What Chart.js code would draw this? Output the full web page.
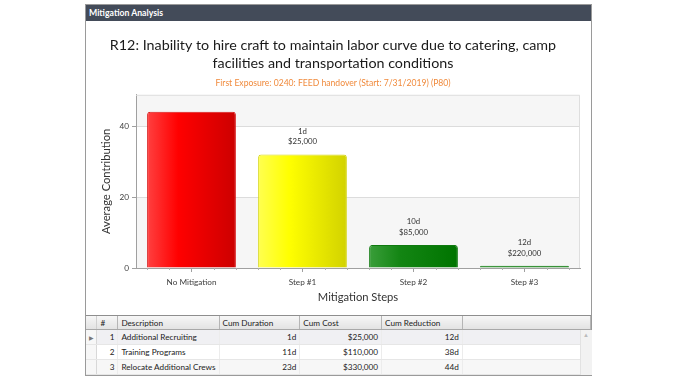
<!DOCTYPE html>
<html>
<head>
<meta charset="utf-8">
<script src="https://cdn.jsdelivr.net/npm/chart.js@4/dist/chart.umd.min.js"></script>
<style>
  html, body { margin: 0; padding: 0; background: #fff; width: 678px; height: 381px; overflow: hidden; font-family: Lato, "Open Sans", sans-serif; }
  #frame { position: absolute; left: 85px; top: 4px; width: 505px; height: 370px; border: 1px solid #9a9a9a; background: #fff; }
  #hdr { position: absolute; left: 0; top: 0; width: 505px; height: 16px; background: #434b59; color: #fff; font-size: 8.7px; font-weight: bold; line-height: 16px; padding-left: 3px; box-sizing: border-box; }
  #chartBox { position: absolute; left: 0; top: 16px; width: 505px; height: 294px; border-bottom: 1px solid #8e8e8e; }
  #grid { position: absolute; left: 0; top: 311px; width: 505px; height: 59px; font-size: 8.2px; color: #222; }
  table { border-collapse: collapse; table-layout: fixed; position: absolute; left: 0; top: 0; }
  td, th { padding: 0 3px; white-space: nowrap; overflow: hidden; font-weight: normal; }
  th { height: 13px; background: linear-gradient(#f6f6f6, #e3e3e3); border-right: 1px solid #b5b5b5; border-bottom: 1px solid #a8a8a8; text-align: left; }
  td { height: 14px; border-bottom: 1px solid #e6e6e6; border-right: 1px solid #ececec; }
  td.r { text-align: right; }
  tr.sel td { background: #f0f0f3; }
  tr.alt td { background: #f7f7f7; }
  td.ind { border-right: 1px solid #d8d8d8; background: #f7f7f7 !important; color: #777; font-size: 6px; text-align: center; padding: 0; }
  #scroll { position: absolute; left: 494px; top: 14px; width: 11px; height: 45px; background: #f2f2f2; border-left: 1px solid #e2e2e2; }
  #scroll span { position: absolute; left: 2px; top: 1px; font-size: 6px; color: #bbb; }
</style>
</head>
<body>
<div id="frame">
  <div id="hdr">Mitigation Analysis</div>
  <div id="chartBox"><canvas id="c" width="505" height="294"></canvas></div>
  <div id="grid">
    <table id="tbl">
      <colgroup>
        <col style="width:11px"><col style="width:21px"><col style="width:100px"><col style="width:81px"><col style="width:82px"><col style="width:81px"><col style="width:129px">
      </colgroup>
      <thead><tr id="headRow"></tr></thead>
      <tbody id="body"></tbody>
    </table>
    <div id="scroll"><span>▲</span></div>
  </div>
</div>
<script>
// ---- Data ----
const titleLines = ["R12: Inability to hire craft to maintain labor curve due to catering, camp", "facilities and transportation conditions"];
const subtitleText = "First Exposure: 0240: FEED handover (Start: 7/31/2019) (P80)";
const categories = ["No Mitigation", "Step #1", "Step #2", "Step #3"];
const contributions = [44, 32, 6.5, 0.6];
const stepDurations = ["", "1d", "10d", "12d"];
const stepCosts = ["", "$25,000", "$85,000", "$220,000"];
const yTicks = [0, 20, 40];

const tableHeaders = ["", "#", "Description", "Cum Duration", "Cum Cost", "Cum Reduction", ""];
const rowNumbers = [1, 2, 3];
const descriptions = ["Additional Recruiting", "Training Programs", "Relocate Additional Crews"];
const cumDuration = ["1d", "11d", "23d"];
const cumCost = ["$25,000", "$110,000", "$330,000"];
const cumReduction = ["12d", "38d", "44d"];

const FONT = 'Lato';

// ---- Table ----
const headRow = document.getElementById('headRow');
tableHeaders.forEach((h, i) => { const th = document.createElement('th'); th.textContent = h; if (i === 0) th.style.borderRight = '1px solid #d0d0d0'; headRow.appendChild(th); });
const body = document.getElementById('body');
rowNumbers.forEach((n, i) => {
  const tr = document.createElement('tr');
  if (i === 0) tr.className = 'sel'; else if (i === 2) tr.className = 'alt';
  const cells = [[i === 0 ? '▶' : '', 'ind'], [n, 'r'], [descriptions[i], ''], [cumDuration[i], 'r'], [cumCost[i], 'r'], [cumReduction[i], 'r'], ['', '']];
  cells.forEach(([t, cls]) => { const td = document.createElement('td'); td.textContent = t; if (cls) td.className = cls; tr.appendChild(td); });
  body.appendChild(tr);
});

// ---- Chart ----
const barStops = [
  ['#ff4040', '#ff0000', '#cc0000'],
  ['#ffff50', '#ffff00', '#d2d200'],
  ['#3a9e3a', '#138513', '#007400'],
  ['#2a962a', '#168a16', '#0a7a0a']
];
const barBorders = ['#d81818', '#d8d820', '#0f7a0f', '#0f7a0f'];
const BAR_PCT = 0.8;

function barGradient(ctx) {
  const chart = ctx.chart;
  if (!chart.chartArea) return barStops[ctx.dataIndex][1];
  const xs = chart.scales.x;
  const cx = xs.getPixelForValue(ctx.dataIndex);
  const w = (xs.width / categories.length) * BAR_PCT;
  const g = chart.ctx.createLinearGradient(cx - w / 2, 0, cx + w / 2, 0);
  const s = barStops[ctx.dataIndex];
  g.addColorStop(0, s[0]); g.addColorStop(0.35, s[1]); g.addColorStop(1, s[2]);
  return g;
}

const bgPlugin = {
  id: 'bands',
  beforeDraw(chart) {
    const { ctx, chartArea: a, scales: { y } } = chart;
    ctx.save();
    ctx.fillStyle = '#ffffff';
    ctx.fillRect(a.left, a.top, a.width, a.height);
    const bounds = yTicks.concat([y.max]);
    for (let i = 0; i < bounds.length - 1; i++) {
      if (i % 2 === 0) {
        const y1 = y.getPixelForValue(bounds[i]), y2 = y.getPixelForValue(bounds[i + 1]);
        ctx.fillStyle = '#f6f6f6';
        ctx.fillRect(a.left, y2, a.width, y1 - y2);
      }
    }
    ctx.restore();
  },
  afterDraw(chart) {
    const { ctx, chartArea: a, scales: { x } } = chart;
    ctx.save();
    ctx.strokeStyle = '#dedede';
    ctx.lineWidth = 1;
    ctx.beginPath();
    ctx.moveTo(a.left, a.top + 0.5); ctx.lineTo(a.right - 0.5, a.top + 0.5); ctx.lineTo(a.right - 0.5, a.bottom);
    ctx.stroke();
    ctx.strokeStyle = '#b0b0b0';
    ctx.beginPath();
    for (let i = 0; i < categories.length; i++) {
      for (const k of [-0.4, -0.2, 0.2, 0.4]) {
        const px = Math.round(x.getPixelForValue(i + k)) + 0.5;
        ctx.moveTo(px, a.bottom); ctx.lineTo(px, a.bottom + 2);
      }
    }
    ctx.stroke();
    ctx.fillStyle = '#333';
    ctx.font = '7.8px ' + FONT;
    ctx.textAlign = 'center';
    ctx.textBaseline = 'middle';
    const meta = chart.getDatasetMeta(0);
    meta.data.forEach((bar, i) => {
      if (!stepDurations[i]) return;
      ctx.fillText(stepCosts[i], bar.x, bar.y - 12.5);
      ctx.fillText(stepDurations[i], bar.x, bar.y - 23);
    });
    ctx.restore();
  }
};

new Chart(document.getElementById('c'), {
  type: 'bar',
  data: {
    labels: categories,
    datasets: [{
      data: contributions,
      backgroundColor: barGradient,
      borderColor: barBorders,
      borderWidth: 1,
      borderRadius: { topLeft: 3, topRight: 3 },
      borderSkipped: 'bottom',
      barPercentage: BAR_PCT,
      categoryPercentage: 1.0
    }]
  },
  options: {
    responsive: false,
    animation: false,
    layout: { padding: { left: 0, right: 11, top: 0, bottom: 0 } },
    plugins: {
      legend: { display: false },
      tooltip: { enabled: false },
      title: {
        display: true,
        text: titleLines,
        color: '#1a1a1a',
        font: { family: FONT, size: 14.3, weight: 'normal', lineHeight: 1.26 },
        padding: { top: 15, bottom: 6 }
      },
      subtitle: {
        display: true,
        text: subtitleText,
        color: '#f08a3c',
        font: { family: FONT, size: 8.6, lineHeight: 1.25 },
        padding: { top: 0, bottom: 6 }
      }
    },
    scales: {
      x: {
        grid: { display: true, drawOnChartArea: false, offset: false, tickLength: 4, tickColor: '#a0a0a0' },
        border: { color: '#a0a0a0' },
        ticks: { color: '#404040', font: { family: FONT, size: 8.2 }, padding: 5 },
        title: { display: true, text: 'Mitigation Steps', color: '#333', font: { family: FONT, size: 11.2 }, padding: { top: 11, bottom: 11 } },
        afterFit(s) { s.height = 47; }
      },
      y: {
        min: 0,
        max: 48.8,
        afterBuildTicks(s) { s.ticks = yTicks.map(v => ({ value: v })); },
        grid: { color: '#dcdcdc', tickLength: 4, tickColor: '#a0a0a0' },
        border: { color: '#a0a0a0' },
        ticks: { color: '#404040', font: { family: FONT, size: 8.2 }, padding: 3 },
        title: { display: true, text: 'Average Contribution', color: '#333', font: { family: FONT, size: 11.2 }, padding: { top: 14, bottom: 14 } },
        afterFit(s) { s.width = 50; }
      }
    }
  },
  plugins: [bgPlugin]
});
</script>
</body>
</html>
